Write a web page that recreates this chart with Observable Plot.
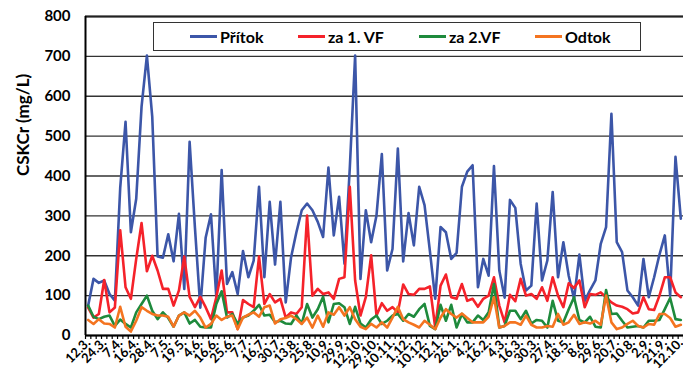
<!DOCTYPE html>
<html>
<head>
<meta charset="utf-8">
<script src="https://cdn.jsdelivr.net/npm/d3@7"></script>
<script src="https://cdn.jsdelivr.net/npm/@observablehq/plot@0.6"></script>
<style>
  html, body { margin: 0; padding: 0; background: #fff; }
  #wrap { position: relative; width: 683px; height: 370px; overflow: hidden; font-family: Lato, "Open Sans", sans-serif; }
  #legend { position: absolute; left: 153px; top: 22px; width: 486px; height: 27px; border: 1.5px solid #333; background: #fff; box-sizing: content-box; }
  .item { position: absolute; top: 0; height: 27px; display: flex; align-items: center; font-weight: bold; font-size: 16px; color: #000; white-space: nowrap; }
  .sw { display: inline-block; width: 27px; height: 3px; margin-right: 3px; }
</style>
</head>
<body>
<div id="wrap"></div>
<script>
const tickLabels = ["12.3.","24.3.","7.4.","16.4.","28.4.","7.5.","19.5.","4.6.","16.6.","25.6.","7.7.","16.7.","30.7.","13.8.","25.8.","10.9.","29.9.","12.10.","29.10.","10.11.","1.12.","10.12.","12.1.","26.1.","4.2.","16.2.","4.3.","16.3.","30.3.","27.4.","18.5.","8.6.","29.6.","20.7.","10.8.","2.9.","21.9.","12.10."];

const seriesNames = ["Přítok", "za 1. VF", "za 2.VF", "Odtok"];
const seriesColors = ["#3C56A8", "#F5222A", "#1E8A3C", "#F47420"];

const pritok = [75,142,132,138,104,87,370,536,259,343,574,702,549,198,195,254,186,305,117,486,270,70,245,304,96,415,
129,159,104,212,146,188,373,146,335,178,335,83,196,259,314,331,314,285,247,421,251,348,180,420,702,142,314,234,
301,455,163,217,469,186,307,226,373,327,212,92,272,259,192,207,373,411,427,121,192,150,425,163,95,340,320,180,
113,125,331,138,188,360,146,234,150,92,203,87,114,138,230,272,556,234,209,113,96,75,192,96,146,203,251,100,448,293];

const vf1 = [70,45,54,139,58,70,264,121,92,192,282,161,200,163,117,117,75,113,198,97,71,97,71,41,96,163,
58,58,16,89,79,71,198,79,104,83,92,45,58,54,71,301,100,117,104,108,92,142,146,373,138,50,96,201,
50,81,62,71,58,128,104,102,117,117,123,20,125,153,96,92,129,87,92,72,92,100,146,75,33,102,86,142,
100,104,92,121,87,146,100,71,131,119,138,71,104,102,108,96,83,75,72,66,55,58,96,66,64,100,146,146,108,96];

const vf2 = [75,47,41,47,50,24,40,29,20,58,79,100,62,41,58,44,22,50,58,30,39,22,20,20,79,111,
45,54,29,45,50,62,77,50,52,33,37,30,29,50,30,79,45,66,97,33,79,81,71,29,72,30,20,40,
50,29,37,50,54,37,54,47,66,79,24,16,77,37,77,20,54,33,33,50,39,58,129,20,24,62,62,41,
62,30,39,37,20,87,37,33,66,96,39,33,47,22,20,114,54,55,37,20,22,24,20,37,37,39,66,94,41,39];

const odtok = [39,29,41,30,29,20,72,22,10,37,71,62,54,50,50,47,22,50,58,50,62,45,20,29,50,39,
47,50,16,45,52,58,47,71,75,30,41,44,50,41,29,45,20,50,22,58,52,71,50,71,41,22,16,29,
20,33,20,45,72,41,33,27,20,37,27,16,45,66,54,45,55,44,33,33,33,47,96,20,24,33,33,27,
50,27,20,20,24,22,54,27,33,52,29,33,30,37,27,100,33,16,20,29,37,24,20,29,27,54,54,44,22,27];

const yTicks = [0,100,200,300,400,500,600,700,800];

const allSeries = [pritok, vf1, vf2, odtok];
const rows = allSeries.flatMap((vals, s) => vals.map((v, i) => ({i, v, s: seriesNames[s]})));
const n = pritok.length;
const boundaries = d3.range(n + 1).map(k => k - 0.5);
const labelIdx = tickLabels.map((_, k) => k * 3);

const chart = Plot.plot({
  width: 683,
  height: 370,
  marginLeft: 85,
  marginRight: 0,
  marginTop: 16,
  marginBottom: 35,
  style: {fontFamily: "Lato, 'Open Sans', sans-serif", background: "#fff", overflow: "visible"},
  x: {type: "linear", domain: [-0.5, n - 0.5], axis: null},
  y: {domain: [0, 800], axis: null},
  color: {domain: seriesNames, range: seriesColors},
  marks: [
    Plot.gridY(yTicks, {stroke: "#333", strokeOpacity: 1, strokeWidth: 1.3}),
    Plot.ruleY([800], {stroke: "#222", strokeWidth: 1.8}),
    Plot.axisY(yTicks, {tickSize: 0, tickPadding: 15, fontSize: 15, fontWeight: "bold", label: null, fill: "#000"}),
    Plot.axisX(boundaries, {tickSize: 4, tickFormat: () => "", label: null, stroke: "#000", strokeWidth: 1.2}),
    Plot.axisX(labelIdx, {tickSize: 0, tickPadding: 5, tickRotate: -45, tickFormat: d => tickLabels[Math.round(d / 3)], fontSize: 13, fontWeight: "bold", label: null, fill: "#000"}),
    Plot.text(["CSKCr (mg/L)"], {frameAnchor: "left", dx: -62, rotate: -90, fontSize: 17, fontWeight: "bold", fill: "#000"}),
    Plot.lineY(rows, {x: "i", y: "v", z: "s", stroke: "s", strokeWidth: 2.6, strokeLinejoin: "round"}),
    Plot.ruleY([0], {stroke: "#000", strokeWidth: 2}),
    Plot.ruleX([-0.5], {stroke: "#000", strokeWidth: 2})
  ]
});

const wrap = document.getElementById("wrap");
wrap.appendChild(chart);

const legend = document.createElement("div");
legend.id = "legend";
const lx = [36, 144, 265, 381];
seriesNames.forEach((name, k) => {
  const it = document.createElement("div");
  it.className = "item";
  it.style.left = lx[k] + "px";
  const sw = document.createElement("span");
  sw.className = "sw";
  sw.style.background = seriesColors[k];
  it.appendChild(sw);
  it.appendChild(document.createTextNode(name));
  legend.appendChild(it);
});
wrap.appendChild(legend);
</script>
</body>
</html>
